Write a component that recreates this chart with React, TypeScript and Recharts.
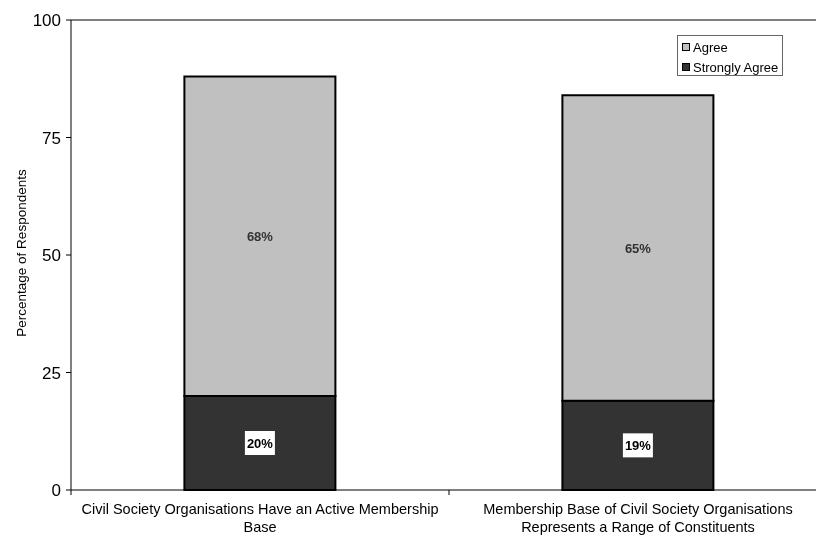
import React from 'react';
import { BarChart, Bar, XAxis, YAxis, ReferenceLine, LabelList } from 'recharts';

const categories = [
  'Civil Society Organisations Have an Active Membership Base',
  'Membership Base of Civil Society Organisations Represents a Range of Constituents',
];
const categoryLines = [
  ['Civil Society Organisations Have an Active Membership', 'Base'],
  ['Membership Base of Civil Society Organisations', 'Represents a Range of Constituents'],
];
const stronglyAgree = [20, 19];
const agree = [68, 65];
const yTicks = [0, 25, 50, 75, 100];
const seriesNames = { strongly: 'Strongly Agree', agree: 'Agree' };
const yTitle = 'Percentage of Respondents';

const data = categories.map((name, i) => ({
  name,
  strongly: stronglyAgree[i],
  agree: agree[i],
}));

const FONT = '"Liberation Sans", Arial, sans-serif';
const CHART_W = 830;
const CHART_H = 530;
const MARGIN = { top: 12, right: 11, left: 0, bottom: 0 };
const Y_AXIS_W = 63;
const PLOT_W = CHART_W - MARGIN.left - MARGIN.right - Y_AXIS_W;
const BAND = PLOT_W / categories.length;

const XTick = (props: any) => {
  const { x, y, payload } = props;
  const idx = categories.indexOf(payload.value);
  const lines = categoryLines[idx] || [payload.value];
  return (
    <g>
      {idx === 0 && <line x1={x - BAND / 2} x2={x - BAND / 2} y1={y} y2={y + 5} stroke="#000" strokeWidth={1} />}
      <line x1={x + BAND / 2} x2={x + BAND / 2} y1={y} y2={y + 5} stroke="#000" strokeWidth={1} />
      <text x={x} y={y} textAnchor="middle" fontSize={14.5} fill="#000" fontFamily={FONT}>
        {lines.map((l, i) => (
          <tspan key={i} x={x} dy={i === 0 ? 24 : 18}>
            {l}
          </tspan>
        ))}
      </text>
    </g>
  );
};

const StronglyLabel = (props: any) => {
  const { x, y, width, height, value } = props;
  const cx = x + width / 2;
  const cy = y + height / 2;
  return (
    <g>
      <rect x={cx - 15} y={cy - 12} width={30} height={24} fill="#fff" />
      <text x={cx} y={cy} textAnchor="middle" dominantBaseline="central" fontSize={13} fontWeight="bold" fill="#000" fontFamily={FONT}>
        {`${value}%`}
      </text>
    </g>
  );
};

const YTitle = (p: any) => {
  const vb = p.viewBox || { x: 0, y: MARGIN.top, width: Y_AXIS_W, height: 470 };
  const cx = vb.x + 13;
  const cy = vb.y + vb.height / 2 - 2;
  return (
    <text x={cx} y={cy} transform={`rotate(-90 ${cx} ${cy})`} textAnchor="middle" dominantBaseline="central" fontSize={13.5} fill="#000" fontFamily={FONT}>
      {yTitle}
    </text>
  );
};

const LegendBox = () => (
  <div
    style={{
      position: 'absolute',
      left: 669,
      top: 27,
      width: 104,
      height: 39,
      border: '1px solid #666',
      background: '#fff',
      fontFamily: FONT,
      fontSize: 13,
      color: '#000',
      boxSizing: 'content-box',
    }}
  >
    {[
      { name: seriesNames.agree, color: '#C0C0C0' },
      { name: seriesNames.strongly, color: '#333333' },
    ].map((it, i) => (
      <div key={i} style={{ position: 'absolute', left: 4, top: 3 + i * 20, height: 16, display: 'flex', alignItems: 'center', whiteSpace: 'nowrap' }}>
        <span style={{ display: 'inline-block', width: 6, height: 6, border: '1px solid #000', background: it.color, marginRight: 3 }} />
        <span>{it.name}</span>
      </div>
    ))}
  </div>
);

export default function App() {
  return (
    <div style={{ position: 'fixed', left: 8, top: 8, width: 808, height: 530, overflow: 'hidden' }}>
      <BarChart
        width={CHART_W}
        height={CHART_H}
        data={data}
        margin={MARGIN}
        barCategoryGap="30%"
        style={{ fontFamily: FONT }}
      >
        <XAxis
          dataKey="name"
          height={48}
          tickLine={false}
          tickSize={0}
          tickMargin={0}
          axisLine={{ stroke: '#000', strokeWidth: 1 }}
          tick={<XTick />}
          interval={0}
        />
        <YAxis
          width={Y_AXIS_W}
          domain={[0, 100]}
          ticks={yTicks}
          allowDecimals={false}
          tickSize={5}
          tickMargin={5}
          tick={{ fontSize: 17, fill: '#000', fontFamily: FONT }}
          axisLine={{ stroke: '#000', strokeWidth: 1 }}
          tickLine={{ stroke: '#000', strokeWidth: 1 }}
          label={{ position: 'insideLeft', content: YTitle }}
        />
        <ReferenceLine y={100} stroke="#000" strokeWidth={1} ifOverflow="visible" />
        <Bar dataKey="strongly" name={seriesNames.strongly} stackId="s" fill="#333333" stroke="#000" strokeWidth={2} isAnimationActive={false}>
          <LabelList dataKey="strongly" content={<StronglyLabel />} />
        </Bar>
        <Bar dataKey="agree" name={seriesNames.agree} stackId="s" fill="#C0C0C0" stroke="#000" strokeWidth={2} isAnimationActive={false}>
          <LabelList
            dataKey="agree"
            position="center"
            formatter={(v: any) => `${v}%`}
            fill="#333"
            style={{ fontWeight: 'bold', fontSize: 13, fontFamily: FONT }}
          />
        </Bar>
      </BarChart>
      <LegendBox />
    </div>
  );
}
